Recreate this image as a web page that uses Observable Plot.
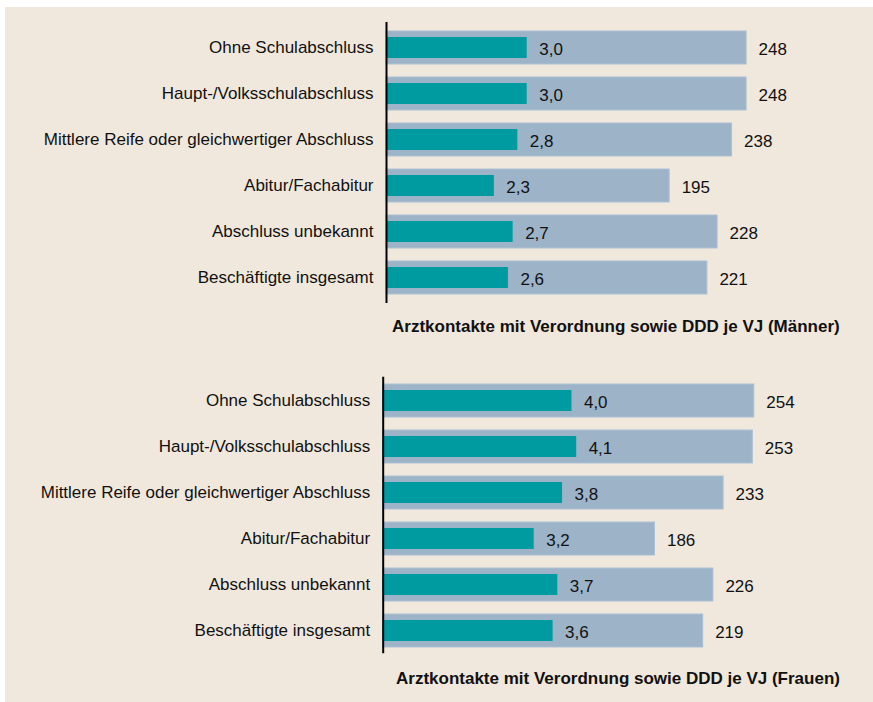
<!DOCTYPE html>
<html>
<head>
<meta charset="utf-8">
<script src="https://cdn.jsdelivr.net/npm/d3@7"></script>
<script src="https://cdn.jsdelivr.net/npm/@observablehq/plot@0.6"></script>
<style>
  html, body { margin: 0; padding: 0; background: #ffffff; }
  #frame { position: absolute; left: 5px; top: 7px; width: 868px; height: 695px; background: #f0e8dc; overflow: hidden;
           font-family: "Liberation Sans", Arial, sans-serif; color: #111; }
  .panel { position: absolute; left: 0; }
  .title { position: absolute; font-weight: bold; font-size: 17px; line-height: 20px; white-space: nowrap; color: #111; }
</style>
</head>
<body>
<div id="frame">
  <div class="panel" id="p1" style="top:0px"></div>
  <div class="title" id="t1" style="left:387px; top:310px"></div>
  <div class="panel" id="p2" style="top:355px"></div>
  <div class="title" id="t2" style="left:391px; top:662px"></div>
</div>
<script>
const categories = ["Ohne Schulabschluss", "Haupt-/Volksschulabschluss", "Mittlere Reife oder gleichwertiger Abschluss", "Abitur/Fachabitur", "Abschluss unbekannt", "Beschäftigte insgesamt"];
const kontakteMaenner = [3.0, 3.0, 2.8, 2.3, 2.7, 2.6];
const dddMaenner = [248, 248, 238, 195, 228, 221];
const kontakteFrauen = [4.0, 4.1, 3.8, 3.2, 3.7, 3.6];
const dddFrauen = [254, 253, 233, 186, 226, 219];
const titleMaenner = "Arztkontakte mit Verordnung sowie DDD je VJ (Männer)";
const titleFrauen = "Arztkontakte mit Verordnung sowie DDD je VJ (Frauen)";

const K = 32.3; // ratio of the teal (Arztkontakte) scale to the DDD scale
const font = "'Liberation Sans', Arial, sans-serif";
const fmt = v => v.toFixed(1).replace(".", ",");

function panel(kontakte, ddd, axisX, pxPerUnit, marginTop, height) {
  const rows = categories.map((c, i) => ({cat: c, k: kontakte[i], ddd: ddd[i]}));
  return Plot.plot({
    width: 868,
    height: height,
    marginTop: marginTop,
    marginBottom: 4,
    marginLeft: axisX,
    marginRight: 0,
    style: {background: "transparent", fontFamily: font, fontSize: "17px", color: "#111"},
    x: {domain: [0, 300], range: [axisX, axisX + 300 * pxPerUnit], axis: null},
    y: {domain: categories, paddingInner: 0.29, paddingOuter: 0.145, label: null},
    marks: [
      Plot.barX(rows, {y: "cat", x: "ddd", fill: "#9cb3c8", stroke: "#adc0d3", strokeWidth: 1}),
      Plot.barX(rows, {y: "cat", x: d => d.k * K, fill: "#009ba1", insetTop: 6, insetBottom: 6}),
      Plot.text(rows, {y: "cat", x: d => d.k * K, text: d => fmt(d.k), textAnchor: "start", dx: 12, dy: 2, fontSize: 17, fill: "#111"}),
      Plot.text(rows, {y: "cat", x: "ddd", text: d => String(d.ddd), textAnchor: "start", dx: 12, dy: 2, fontSize: 17, fill: "#111"}),
      Plot.axisY({tickSize: 0, tickPadding: 13, fontSize: 17, fill: "#111", label: null}),
      Plot.ruleX([0], {stroke: "#000", strokeWidth: 2})
    ]
  });
}

document.getElementById("p1").appendChild(panel(kontakteMaenner, dddMaenner, 381, 1.452, 15, 300));
document.getElementById("p2").appendChild(panel(kontakteFrauen, dddFrauen, 377.7, 1.461, 14.7, 295.3));
document.getElementById("t1").textContent = titleMaenner;
document.getElementById("t2").textContent = titleFrauen;
</script>
</body>
</html>
